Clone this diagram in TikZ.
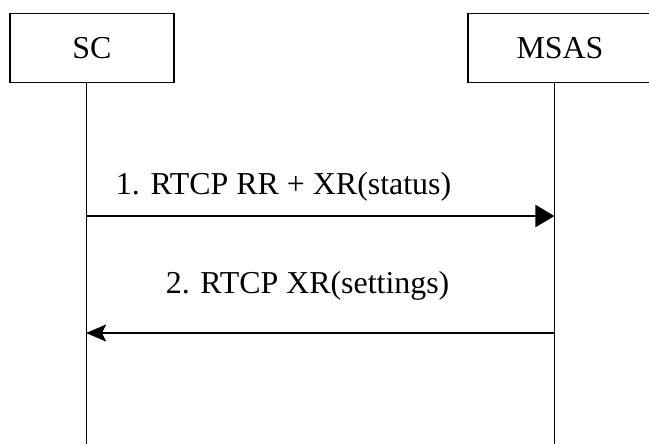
\documentclass[tikz,border=0pt]{standalone}
\usepackage{fontspec}
\setmainfont{Liberation Serif}
\usetikzlibrary{arrows.meta}
\begin{document}
\begin{tikzpicture}[font=\fontsize{22.7}{27}\selectfont]
    % Rahmen des Bildes
    \useasboundingbox (0,0) rectangle (16.225,-11.1);

    % Kästen oben
    \node[draw, line width=0.9pt, minimum width=4.1cm, minimum height=1.725cm, anchor=north] (SC) at (2.3,-0.325) {SC};
    \node[draw, line width=0.9pt, minimum width=4.6cm, minimum height=1.725cm, anchor=north] (MSAS) at (14.0,-0.325) {MSAS};

    % Lebenslinien
    \coordinate (scTop) at (2.15,-2.05);
    \coordinate (scEnd) at (2.15,-11.1);
    \coordinate (msasTop) at (13.86,-2.05);
    \coordinate (msasEnd) at (13.86,-11.1);
    \draw[line width=0.7pt] (scTop) -- (scEnd);
    \draw[line width=0.7pt] (msasTop) -- (msasEnd);

    % 1. Nachricht
    \coordinate (m1a) at (2.15,-5.4);
    \coordinate (m1b) at (13.86,-5.4);
    \draw[line width=1.8pt, -{Triangle[length=0.475cm, width=0.55cm]}] (m1a) -- (m1b);
    \node[anchor=base] (t1) at (7.09,-4.87) {1. RTCP RR + XR(status)};

    % 2. Nachricht
    \coordinate (m2a) at (13.86,-8.325);
    \coordinate (m2b) at (2.15,-8.325);
    \draw[line width=1.8pt, -{Stealth[length=0.5cm, width=0.42cm, inset=0.1cm]}] (m2a) -- (m2b);
    \node[anchor=base] (t2) at (7.69,-7.33) {2. RTCP XR(settings)};
\end{tikzpicture}
\end{document}
